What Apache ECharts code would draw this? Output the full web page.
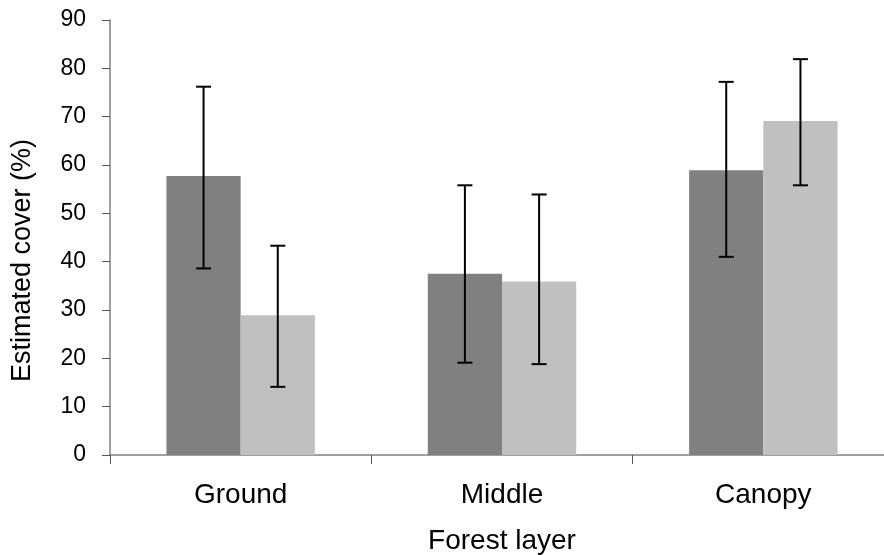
<!DOCTYPE html>
<html>
<head>
<meta charset="utf-8">
<script src="https://cdn.jsdelivr.net/npm/echarts@6/dist/echarts.min.js"></script>
<style>
  html, body { margin: 0; padding: 0; background: #fff; }
  #chart { width: 884px; height: 555px; }
</style>
</head>
<body>
<div id="chart"></div>
<script>
// forest layers
const categories = ['Ground', 'Middle', 'Canopy'];

// two groups, bar heights (%)
const darkValues = [57.7, 37.5, 58.9];
const lightValues = [28.9, 35.9, 69.1];

// error bar ends [low, high]
const darkErrors = [[38.6, 76.2], [19.1, 55.8], [41.0, 77.2]];
const lightErrors = [[14.1, 43.3], [18.8, 53.9], [55.8, 81.9]];

const yTicks = [0, 10, 20, 30, 40, 50, 60, 70, 80, 90];

const chart = echarts.init(document.getElementById('chart'));

const barWidthPct = 0.284;

// draws whisker for a given bar index within a category
function errorRender(seriesIdx) {
  return function (params, api) {
    const cat = api.value(0);
    const lo = api.coord([cat, api.value(1)]);
    const hi = api.coord([cat, api.value(2)]);
    const bandW = api.size([1, 0])[0];
    const bw = bandW * barWidthPct;
    const x = lo[0] + (seriesIdx === 0 ? -bw / 2 : bw / 2);
    const cap = 7.5;
    const style = { stroke: '#000', lineWidth: 2 };
    return {
      type: 'group',
      children: [
        { type: 'line', shape: { x1: x, y1: hi[1], x2: x, y2: lo[1] }, style },
        { type: 'line', shape: { x1: x - cap, y1: hi[1], x2: x + cap, y2: hi[1] }, style },
        { type: 'line', shape: { x1: x - cap, y1: lo[1], x2: x + cap, y2: lo[1] }, style }
      ]
    };
  };
}

chart.setOption({
  animation: false,
  textStyle: { fontFamily: 'Liberation Sans, Arial, sans-serif' },
  // the x axis runs a little past the right edge in the original
  grid: {
    left: 110, width: 784, top: 20, bottom: 100,
    containLabel: false, outerBoundsMode: 'none'
  },
  xAxis: {
    type: 'category',
    data: categories,
    name: 'Forest layer',
    nameLocation: 'middle',
    nameGap: 72,
    nameTextStyle: { fontSize: 28, color: '#000' },
    axisLine: { lineStyle: { color: '#808080', width: 1.5 } },
    axisTick: { show: true, length: 9, lineStyle: { color: '#555' } },
    axisLabel: { fontSize: 28, color: '#000', margin: 26 }
  },
  yAxis: {
    type: 'value',
    min: yTicks[0],
    max: yTicks[yTicks.length - 1],
    interval: 10,
    name: 'Estimated cover (%)',
    nameLocation: 'middle',
    nameGap: 74,
    nameTextStyle: { fontSize: 27, color: '#000', padding: [0, 46, 0, 0] },
    axisLine: { show: true, lineStyle: { color: '#808080', width: 1.5 } },
    axisTick: { show: true, length: 8, lineStyle: { color: '#555' } },
    axisLabel: { fontSize: 23, color: '#000', margin: 24 },
    splitLine: { show: false }
  },
  series: [
    {
      type: 'bar',
      data: darkValues,
      barWidth: (barWidthPct * 100) + '%',
      barGap: '0%',
      itemStyle: { color: '#808080' }
    },
    {
      type: 'bar',
      data: lightValues,
      barWidth: (barWidthPct * 100) + '%',
      barGap: '0%',
      itemStyle: { color: '#c0c0c0' }
    },
    {
      type: 'custom',
      renderItem: errorRender(0),
      data: darkErrors.map((e, i) => [i, e[0], e[1]]),
      z: 10
    },
    {
      type: 'custom',
      renderItem: errorRender(1),
      data: lightErrors.map((e, i) => [i, e[0], e[1]]),
      z: 10
    }
  ]
});
</script>
</body>
</html>
